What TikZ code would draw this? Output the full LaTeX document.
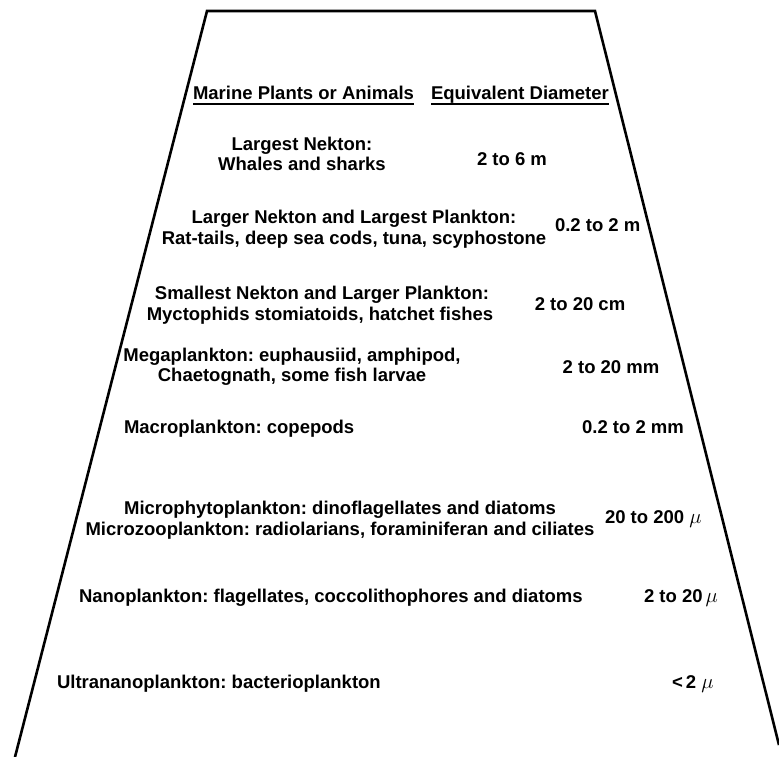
\documentclass[tikz,border=0pt]{standalone}
\usepackage{fontspec}
\setmainfont{Liberation Sans}
\newcommand{\mumark}{{\fontsize{21}{21}\selectfont$\mu$}}
\begin{document}
\frenchspacing
\begin{tikzpicture}[x=1pt,y=-1pt,
  txt/.style={inner sep=0pt,outer sep=0pt,anchor=base,font=\fontsize{18.5}{20.5}\selectfont\bfseries},
  txtl/.style={txt,anchor=base west},
  frame/.style={line width=2.6pt,line join=miter},
  uline/.style={line width=1.8pt}]
\useasboundingbox (0,0) rectangle (779,757);
% trapezoid
\coordinate (bl) at (15,757);
\coordinate (tl) at (207,11);
\coordinate (tr) at (595,11);
\coordinate (br) at (779,745);
\draw[frame] (bl) -- (tl) -- (tr) -- (br);
% header
\node[txtl] (h1) at (193,100) {Marine Plants or Animals};
\node[txtl] (h2) at (431,100) {Equivalent Diameter};
\draw[uline] ([yshift=-4pt]h1.base west) -- ([yshift=-4pt]h1.base east);
\draw[uline] ([yshift=-4pt]h2.base west) -- ([yshift=-4pt]h2.base east);
% rows
\node[txt] (r1a) at (302,150) {Largest Nekton:};
\node[txt] (r1b) at (302,171) {Whales and sharks};
\node[txt] (v1) at (512,165) {2 to 6 m};
\node[txt] (r2a) at (354,223.5) {Larger Nekton and Largest Plankton:};
\node[txt] (r2b) at (354,244) {Rat-tails, deep sea cods, tuna, scyphostone};
\node[txtl] (v2) at (555,231) {0.2 to 2 m};
\node[txt] (r3a) at (322,299) {Smallest Nekton and Larger Plankton:};
\node[txt] (r3b) at (320,320) {Myctophids stomiatoids, hatchet fishes};
\node[txt] (v3) at (580,310) {2 to 20 cm};
\node[txt] (r4a) at (292,361) {Megaplankton: euphausiid, amphipod,};
\node[txt] (r4b) at (292,381) {Chaetognath, some fish larvae};
\node[txt] (v4) at (611,373) {2 to 20 mm};
\node[txtl] (r5a) at (124,433) {Macroplankton: copepods};
\node[txt] (v5) at (633,433) {0.2 to 2 mm};
\node[txt] (r6a) at (340,514) {Microphytoplankton: dinoflagellates and diatoms};
\node[txt] (r6b) at (340,535) {Microzooplankton: radiolarians, foraminiferan and ciliates};
\node[txtl] (v6) at (605,523) {20 to 200 \mumark};
\node[txtl] (v7) at (644,602) {2 to 20\,\mumark};
\node[txtl] (r7a) at (79,602) {Nanoplankton: flagellates, coccolithophores and diatoms};
\node[txtl] (r8a) at (57,688.5) {Ultrananoplankton: bacterioplankton};
\node[txtl] (v8) at (672,688.5) {<\,2 \mumark};
\end{tikzpicture}
\end{document}
